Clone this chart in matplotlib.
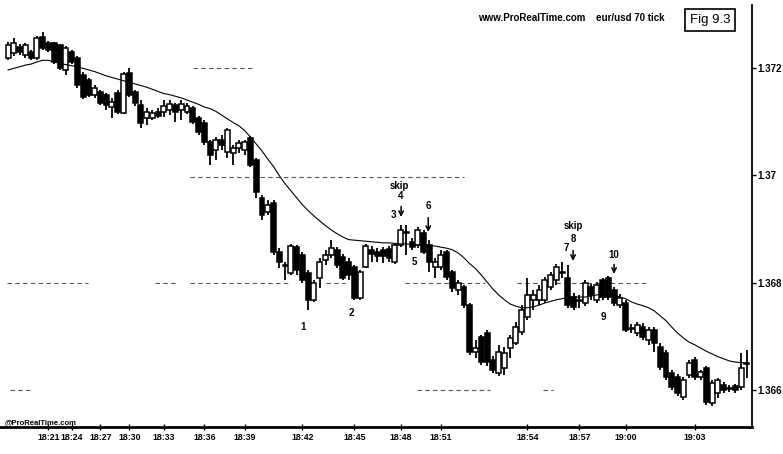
import matplotlib
matplotlib.use("Agg")
import matplotlib.pyplot as plt

plt.rcParams["font.family"] = ["Liberation Sans", "DejaVu Sans"]
plt.rcParams["font.weight"] = "bold"

# eur/usd, 70 tick candles
OPEN = [
    1.37219, 1.37228, 1.37239, 1.37224, 1.37230, 1.37219, 1.37258, 1.37247, 1.37247, 1.37243,
    1.37196, 1.37230, 1.37219, 1.37187, 1.37178, 1.37150, 1.37155, 1.37150, 1.37127, 1.37153,
    1.37116, 1.37191, 1.37155, 1.37131, 1.37107, 1.37107, 1.37118, 1.37118, 1.37122, 1.37131,
    1.37122, 1.37118, 1.37125, 1.37107, 1.37098, 1.37062, 1.37047, 1.37066, 1.37043, 1.37042,
    1.37051, 1.37047, 1.37070, 1.37029, 1.36958, 1.36932, 1.36948, 1.36857, 1.36833, 1.36818,
    1.36866, 1.36852, 1.36818, 1.36768, 1.36809, 1.36842, 1.36852, 1.36861, 1.36848, 1.36839,
    1.36829, 1.36771, 1.36829, 1.36861, 1.36857, 1.36861, 1.36863, 1.36839, 1.36870, 1.36894,
    1.36876, 1.36870, 1.36893, 1.36870, 1.36829, 1.36829, 1.36857, 1.36820, 1.36786, 1.36792,
    1.36758, 1.36671, 1.36699, 1.36706, 1.36656, 1.36632, 1.36641, 1.36678, 1.36688, 1.36708,
    1.36736, 1.36768, 1.36768, 1.36768, 1.36792, 1.36805, 1.36820, 1.36809, 1.36773, 1.36768,
    1.36762, 1.36792, 1.36768, 1.36805, 1.36809, 1.36786, 1.36758, 1.36762, 1.36716, 1.36706,
    1.36717, 1.36693, 1.36712, 1.36680, 1.36669, 1.36632, 1.36624, 1.36587, 1.36628, 1.36656,
    1.36624, 1.36641, 1.36576, 1.36594, 1.36609, 1.36604, 1.36607, 1.36606, 1.36650,
]
HIGH = [
    1.37248, 1.37256, 1.37245, 1.37247, 1.37234, 1.37260, 1.37267, 1.37250, 1.37248, 1.37245,
    1.37241, 1.37234, 1.37222, 1.37193, 1.37181, 1.37168, 1.37159, 1.37153, 1.37144, 1.37159,
    1.37193, 1.37200, 1.37159, 1.37140, 1.37125, 1.37122, 1.37125, 1.37140, 1.37140, 1.37135,
    1.37140, 1.37135, 1.37129, 1.37111, 1.37103, 1.37066, 1.37071, 1.37075, 1.37088, 1.37056,
    1.37066, 1.37066, 1.37073, 1.37032, 1.36963, 1.36954, 1.36954, 1.36865, 1.36839, 1.36872,
    1.36870, 1.36857, 1.36824, 1.36805, 1.36846, 1.36861, 1.36880, 1.36866, 1.36853, 1.36846,
    1.36833, 1.36824, 1.36872, 1.36868, 1.36865, 1.36866, 1.36868, 1.36872, 1.36907, 1.36907,
    1.36883, 1.36904, 1.36898, 1.36880, 1.36846, 1.36861, 1.36861, 1.36824, 1.36805, 1.36796,
    1.36762, 1.36693, 1.36702, 1.36712, 1.36663, 1.36684, 1.36680, 1.36702, 1.36727, 1.36758,
    1.36809, 1.36786, 1.36796, 1.36811, 1.36820, 1.36835, 1.36839, 1.36833, 1.36781, 1.36777,
    1.36805, 1.36798, 1.36801, 1.36809, 1.36812, 1.36792, 1.36779, 1.36768, 1.36723, 1.36727,
    1.36725, 1.36717, 1.36717, 1.36688, 1.36675, 1.36637, 1.36630, 1.36624, 1.36656, 1.36662,
    1.36637, 1.36645, 1.36619, 1.36622, 1.36615, 1.36609, 1.36611, 1.36669, 1.36675,
]
LOW = [
    1.37215, 1.37222, 1.37224, 1.37219, 1.37215, 1.37215, 1.37234, 1.37230, 1.37207, 1.37196,
    1.37187, 1.37207, 1.37163, 1.37142, 1.37146, 1.37144, 1.37131, 1.37122, 1.37107, 1.37114,
    1.37114, 1.37146, 1.37129, 1.37088, 1.37094, 1.37103, 1.37107, 1.37109, 1.37112, 1.37099,
    1.37103, 1.37114, 1.37096, 1.37075, 1.37056, 1.37019, 1.37029, 1.37047, 1.37032, 1.37019,
    1.37042, 1.37038, 1.37016, 1.36958, 1.36917, 1.36926, 1.36852, 1.36827, 1.36805, 1.36814,
    1.36814, 1.36799, 1.36749, 1.36764, 1.36790, 1.36833, 1.36846, 1.36827, 1.36805, 1.36805,
    1.36768, 1.36768, 1.36827, 1.36839, 1.36839, 1.36837, 1.36839, 1.36835, 1.36866, 1.36852,
    1.36861, 1.36865, 1.36853, 1.36820, 1.36809, 1.36824, 1.36805, 1.36783, 1.36777, 1.36753,
    1.36665, 1.36660, 1.36647, 1.36645, 1.36632, 1.36626, 1.36628, 1.36660, 1.36684, 1.36702,
    1.36730, 1.36749, 1.36758, 1.36762, 1.36786, 1.36796, 1.36809, 1.36753, 1.36749, 1.36753,
    1.36757, 1.36768, 1.36762, 1.36768, 1.36768, 1.36757, 1.36753, 1.36708, 1.36706, 1.36701,
    1.36693, 1.36684, 1.36671, 1.36637, 1.36619, 1.36600, 1.36589, 1.36581, 1.36622, 1.36619,
    1.36619, 1.36572, 1.36570, 1.36585, 1.36594, 1.36596, 1.36594, 1.36600, 1.36622,
]
CLOSE = [
    1.37243, 1.37247, 1.37230, 1.37243, 1.37219, 1.37256, 1.37237, 1.37234, 1.37211, 1.37200,
    1.37237, 1.37211, 1.37168, 1.37146, 1.37150, 1.37163, 1.37135, 1.37131, 1.37137, 1.37118,
    1.37189, 1.37150, 1.37135, 1.37098, 1.37118, 1.37116, 1.37111, 1.37129, 1.37133, 1.37118,
    1.37133, 1.37129, 1.37099, 1.37081, 1.37062, 1.37038, 1.37066, 1.37056, 1.37085, 1.37051,
    1.37060, 1.37062, 1.37019, 1.36969, 1.36926, 1.36945, 1.36857, 1.36839, 1.36831, 1.36868,
    1.36824, 1.36805, 1.36768, 1.36799, 1.36839, 1.36852, 1.36865, 1.36833, 1.36809, 1.36814,
    1.36771, 1.36820, 1.36868, 1.36853, 1.36850, 1.36850, 1.36846, 1.36870, 1.36898, 1.36893,
    1.36866, 1.36898, 1.36857, 1.36839, 1.36839, 1.36852, 1.36811, 1.36790, 1.36799, 1.36758,
    1.36671, 1.36678, 1.36652, 1.36652, 1.36637, 1.36671, 1.36669, 1.36697, 1.36717, 1.36749,
    1.36777, 1.36777, 1.36786, 1.36805, 1.36814, 1.36829, 1.36818, 1.36758, 1.36755, 1.36766,
    1.36799, 1.36777, 1.36796, 1.36773, 1.36773, 1.36762, 1.36771, 1.36712, 1.36714, 1.36721,
    1.36699, 1.36712, 1.36688, 1.36643, 1.36624, 1.36606, 1.36594, 1.36619, 1.36650, 1.36624,
    1.36634, 1.36578, 1.36613, 1.36619, 1.36600, 1.36602, 1.36600, 1.36641, 1.36648,
]
# moving average line at each candle
MA = [
    1.37196, 1.37199, 1.37202, 1.37205, 1.37207, 1.37211, 1.37214, 1.37214, 1.37211, 1.37208,
    1.37206, 1.37204, 1.37202, 1.37199, 1.37196, 1.37193, 1.37189, 1.37185, 1.37182, 1.37179,
    1.37176, 1.37173, 1.37170, 1.37167, 1.37164, 1.37160, 1.37156, 1.37152, 1.37150, 1.37147,
    1.37144, 1.37140, 1.37136, 1.37132, 1.37127, 1.37124, 1.37119, 1.37112, 1.37105, 1.37098,
    1.37092, 1.37083, 1.37071, 1.37058, 1.37045, 1.37030, 1.37016, 1.36999, 1.36984, 1.36971,
    1.36958, 1.36945, 1.36934, 1.36924, 1.36915, 1.36906, 1.36898, 1.36891, 1.36885, 1.36880,
    1.36879, 1.36878, 1.36877, 1.36876, 1.36875, 1.36874, 1.36874, 1.36873, 1.36872, 1.36872,
    1.36871, 1.36870, 1.36870, 1.36869, 1.36868, 1.36866, 1.36864, 1.36861, 1.36855, 1.36846,
    1.36835, 1.36826, 1.36814, 1.36801, 1.36788, 1.36777, 1.36768, 1.36760, 1.36756, 1.36753,
    1.36753, 1.36755, 1.36758, 1.36762, 1.36765, 1.36768, 1.36770, 1.36772, 1.36773, 1.36773,
    1.36773, 1.36775, 1.36777, 1.36779, 1.36779, 1.36777, 1.36773, 1.36770, 1.36764, 1.36760,
    1.36757, 1.36753, 1.36747, 1.36738, 1.36729, 1.36717, 1.36706, 1.36697, 1.36689, 1.36684,
    1.36678, 1.36672, 1.36667, 1.36662, 1.36658, 1.36654, 1.36652, 1.36651, 1.36650,
]

TIME_TICKS = [7, 11, 16, 21, 27, 34, 41, 51, 60, 68, 75, 90, 99, 107, 119]
TIME_LABELS = ["18:21", "18:24", "18:27", "18:30", "18:33", "18:36", "18:39", "18:42",
               "18:45", "18:48", "18:51", "18:54", "18:57", "19:00", "19:03"]
PRICE_TICKS = [1.366, 1.368, 1.370, 1.372]
PRICE_LABELS = ["1.366", "1.368", "1.37", "1.372"]

# broken horizontal price lines: (price, from candle, to candle)
LEVELS = [
    (1.372, 32, 42.5),
    (1.36996, 31.5, 79),
    (1.36799, -0.2, 13.9), (1.36799, 25.5, 29), (1.36799, 31.5, 49),
    (1.36799, 55, 58.4), (1.36799, 68.8, 82.7), (1.36799, 88.2, 110.7),
    (1.366, 0.3, 3.8), (1.366, 70.9, 83.5), (1.366, 92.7, 94.5),
]

NOTES = [
    ("1", 51.1, 1.36717), ("2", 59.4, 1.36743), ("3", 66.7, 1.36926),
    ("skip", 67.8, 1.36980), ("4", 68.1, 1.36961), ("5", 70.4, 1.36839),
    ("6", 72.8, 1.36943), ("7", 96.7, 1.36865), ("skip", 97.9, 1.36906),
    ("8", 97.9, 1.36881), ("9", 103.1, 1.36736), ("10", 105.0, 1.36852),
]
ARROWS = [(68.1, 1.36947, 1.36917), (72.8, 1.36926, 1.36889),
          (97.9, 1.36865, 1.36835), (105.0, 1.36839, 1.36811)]

W, H = 783, 454
fig = plt.figure(figsize=(W / 100, H / 100), dpi=100)
ax = fig.add_axes([0, 27 / H, 752 / W, 422 / H])

idx = list(range(len(CLOSE)))

# wicks
ax.vlines(idx, LOW, HIGH, color="black", lw=1.3, zorder=2)

# bodies: hollow = up, filled = down
for i in idx:
    o, c = OPEN[i], CLOSE[i]
    up = c >= o
    ax.bar(i, abs(c - o), bottom=min(o, c), width=0.86,
           facecolor="white" if up else "black", edgecolor="black",
           linewidth=1.1, zorder=3)

ax.plot(idx, MA, color="black", lw=0.8, zorder=4)

for price, a, b in LEVELS:
    ax.plot([a, b], [price, price], color="#555555", lw=0.8,
            linestyle=(0, (4, 3)), zorder=1)

for label, x, y in NOTES:
    ax.text(x, y, label, ha="center", va="center", fontsize=7, weight="bold")

for x, y0, y1 in ARROWS:
    ax.annotate("", xy=(x, y1), xytext=(x, y0),
                arrowprops=dict(arrowstyle="->", color="black", lw=1.1,
                                mutation_scale=8))

ax.set_xlim(-1.4, 128.9)
ax.set_ylim(1.36531, 1.37317)

ax.spines["left"].set_visible(False)
ax.spines["top"].set_visible(False)
ax.spines["bottom"].set_linewidth(2.0)
ax.spines["right"].set_linewidth(1.3)

ax.yaxis.tick_right()
ax.set_yticks(PRICE_TICKS)
ax.set_yticklabels(PRICE_LABELS)
ax.tick_params(axis="y", direction="out", length=3, width=1, pad=1, labelsize=7)

ax.set_xticks(TIME_TICKS)
ax.set_xticklabels(TIME_LABELS)
ax.tick_params(axis="x", direction="inout", length=4, width=1, pad=2, labelsize=6.3)

fig.text(478 / W, 1 - 18 / H, "www.ProRealTime.com", ha="left", va="center",
         fontsize=7, weight="bold")
fig.text(596 / W, 1 - 18 / H, "eur/usd 70 tick", ha="left", va="center",
         fontsize=7, weight="bold")
fig.text(710 / W, 1 - 20 / H, "Fig 9.3", ha="center", va="center", fontsize=9.5,
         weight="normal",
         bbox=dict(boxstyle="square,pad=0.35", facecolor="white",
                   edgecolor="black", lw=1.2))
fig.text(5 / W, 1 - 423 / H, "@ProRealTime.com", ha="left", va="center",
         fontsize=5.5, weight="bold")

fig.savefig("out.png", dpi=100)
